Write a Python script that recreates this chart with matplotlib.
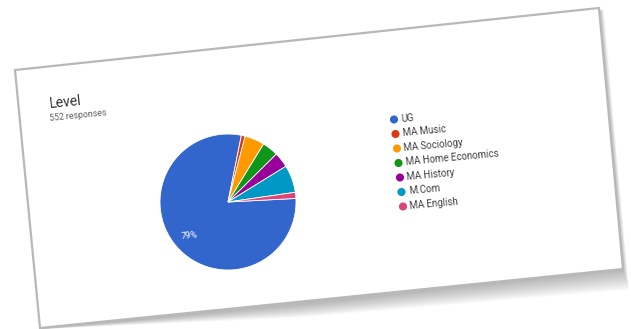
import matplotlib.pyplot as plt
from matplotlib.patches import Polygon
import numpy as np

plt.rcParams['font.family'] = ['Roboto', 'DejaVu Sans']

# data (552 responses)
levels = ['UG', 'MA Music', 'MA Sociology', 'MA Home Economics',
          'MA History', 'M.Com', 'MA English']
counts = [436, 5, 26, 21, 20, 36, 8]
colors = ['#3366CC', '#DC3912', '#FF9900', '#109618',
          '#990099', '#0099C6', '#DD4477']
title = 'Level'
subtitle = '552 responses'

W, H = 631, 329
fig = plt.figure(figsize=(W / 100, H / 100), dpi=100)
fig.patch.set_facecolor('white')

# background axes in pixel coordinates (y downward)
bg = fig.add_axes([0, 0, 1, 1])
bg.set_xlim(0, W)
bg.set_ylim(H, 0)
bg.axis('off')

card = [(15, 70), (599, 8), (623, 269), (40, 328)]

# soft shadow, heavier toward the bottom right
for i in range(12):
    k = i + 1
    shadow = [(18, 72), (599 + k * 0.4, 10), (623 + k * 0.5, 269 + k * 1.7),
              (300, 304 + k * 1.1), (42, 329)]
    bg.add_patch(Polygon(shadow, closed=True, facecolor='#606060',
                         edgecolor='none', alpha=0.045, zorder=1))

bg.add_patch(Polygon(card, closed=True, facecolor='white',
                     edgecolor='#b8b8b8', linewidth=1.6, zorder=2))

rot = 5.8
bg.text(49, 104, title, fontsize=10, color='#303030', rotation=rot,
        rotation_mode='anchor', ha='left', va='center', zorder=3)
bg.text(50, 119, subtitle, fontsize=6.3, color='#606060', rotation=rot,
        rotation_mode='anchor', ha='left', va='center', zorder=3)

# legend entries, stepping down the tilted card
for i, (lab, col) in enumerate(zip(levels, colors)):
    x = 394 + i * 1.5
    y = 119.5 + i * 14.5
    bg.scatter([x], [y], s=34, color=col, edgecolors='none', zorder=3)
    bg.text(x + 7, y - 0.5, lab, fontsize=7, color='#404040', rotation=5.2,
            rotation_mode='anchor', ha='left', va='center', zorder=3)

# pie
cx, cy, r = 228, 202, 68
ax = fig.add_axes([(cx - r) / W, (H - cy - r) / H, 2 * r / W, 2 * r / H])
wedges, _ = ax.pie(counts, colors=colors, startangle=3, counterclock=False,
                   wedgeprops=dict(edgecolor='white', linewidth=0.6))
ax.set_xlim(-1, 1)
ax.set_ylim(-1, 1)
ax.set_aspect('auto')
share = counts[0] / sum(counts) * 100
ax.text(-0.57, -0.5, f'{share:.0f}%', fontsize=6.3, color='white',
        ha='center', va='center', rotation=rot)

fig.savefig('out.png', dpi=100)
